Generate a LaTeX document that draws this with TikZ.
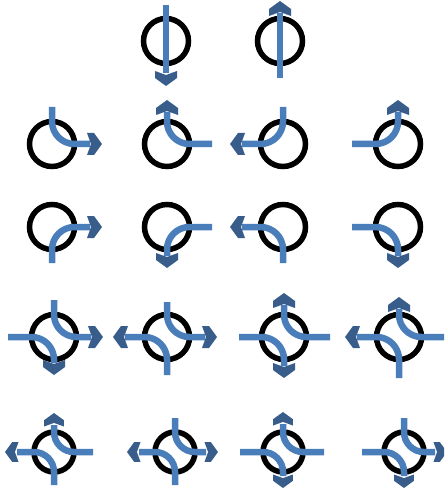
\documentclass[tikz,border=0pt]{standalone}
\definecolor{shaftc}{HTML}{4A7EBB}
\definecolor{headc}{HTML}{385D8A}
\tikzset{
  ring/.style={circle,draw=black,line width=5.5pt,inner sep=0pt,minimum size=45pt},
  ringsm/.style={ring,minimum size=40pt},
  shaft/.style={draw=shaftc,line width=6.5pt,line cap=butt,line join=round},
  headfill/.style={fill=headc}
}
\newcommand{\ahead}[4][1]{\fill[headfill,shift={(#2,#3)},rotate=#4,scale=#1]
  (-15,-11) -- (-8,-11) -- (0,0) -- (-8,11) -- (-15,11) -- (-11,0) -- cycle;}
\begin{document}
\begin{tikzpicture}[x=1pt,y=-1pt]
\useasboundingbox (0,0) rectangle (444,497);
\clip (0,0) rectangle (444,497);
\fill[white] (0,0) rectangle (444,497);
% rings
\node[ring] (c11) at (166,41) {};
\node[ring] (c12) at (280,41) {};
\node[ring] (c21) at (52,144) {};
\node[ring] (c22) at (167,144) {};
\node[ring] (c23) at (283,144) {};
\node[ring] (c24) at (398,144) {};
\node[ring] (c31) at (52,227) {};
\node[ring] (c32) at (167,227) {};
\node[ring] (c33) at (283,227) {};
\node[ring] (c34) at (398,227) {};
\node[ring] (c41) at (54,337) {};
\node[ring] (c42) at (167,337) {};
\node[ring] (c43) at (284,337) {};
\node[ring] (c44) at (399,337) {};
\node[ringsm] (c51) at (54,452) {};
\node[ringsm] (c52) at (175,452) {};
\node[ringsm] (c53) at (283,452) {};
\node[ringsm] (c54) at (404,452) {};
% row 1
\draw[shaft] (166,5) -- (c11.center) -- (166,73); \ahead{166}{86}{-90}
\draw[shaft] (280,78) -- (c12.center) -- (280,13); \ahead{280}{1}{90}
% row 2
\draw[shaft,rounded corners=22.5pt] (52,107) -- (c21.center) -- (90,144); \ahead{102}{144}{0}
\draw[shaft,rounded corners=22.5pt] (212,144) -- (c22.center) -- (167,112); \ahead{167}{100}{90}
\draw[shaft,rounded corners=22.5pt] (283,107) -- (c23.center) -- (242,144); \ahead{230}{144}{180}
\draw[shaft,rounded corners=22.5pt] (352,144) -- (c24.center) -- (398,112); \ahead{398}{100}{90}
% row 3
\draw[shaft,rounded corners=22.5pt] (52,263) -- (c31.center) -- (90,227); \ahead{102}{227}{0}
\draw[shaft,rounded corners=22.5pt] (212,227) -- (c32.center) -- (167,256); \ahead{167}{268}{-90}
\draw[shaft,rounded corners=22.5pt] (283,263) -- (c33.center) -- (242,227); \ahead{230}{227}{180}
\draw[shaft,rounded corners=22.5pt] (352,227) -- (c34.center) -- (398,256); \ahead{398}{268}{-90}
% row 4
\draw[shaft,rounded corners=22.5pt] (54,300) -- (c41.center) -- (91,337); \ahead{103}{337}{0}
\draw[shaft,rounded corners=22.5pt] (8,337) -- (c41.center) -- (54,363); \ahead{54}{375}{-90}
\draw[shaft,rounded corners=22.5pt] (167,302) -- (c42.center) -- (205,337); \ahead{217}{337}{0}
\draw[shaft,rounded corners=22.5pt] (167,375) -- (c42.center) -- (125,337); \ahead{113}{337}{180}
\draw[shaft,rounded corners=22.5pt] (330,337) -- (c43.center) -- (284,305); \ahead{284}{293}{90}
\draw[shaft,rounded corners=22.5pt] (239,337) -- (c43.center) -- (284,366); \ahead{284}{378}{-90}
\draw[shaft,rounded corners=22.5pt] (446,337) -- (c44.center) -- (399,309); \ahead{399}{297}{90}
\draw[shaft,rounded corners=22.5pt] (399,378) -- (c44.center) -- (357,337); \ahead{345}{337}{180}
% row 5
\draw[shaft,rounded corners=20pt] (93,452) -- (c51.center) -- (54,425); \ahead[0.9]{54}{413}{90}
\draw[shaft,rounded corners=20pt] (54,485) -- (c51.center) -- (17,452); \ahead[0.9]{5}{452}{180}
\draw[shaft,rounded corners=20pt] (175,418) -- (c52.center) -- (206,452); \ahead[0.9]{218}{452}{0}
\draw[shaft,rounded corners=20pt] (175,485) -- (c52.center) -- (139,452); \ahead[0.9]{127}{452}{180}
\draw[shaft,rounded corners=20pt] (324,452) -- (c53.center) -- (283,424); \ahead[0.9]{283}{412}{90}
\draw[shaft,rounded corners=20pt] (240,452) -- (c53.center) -- (283,476); \ahead[0.9]{283}{488}{-90}
\draw[shaft,rounded corners=20pt] (404,418) -- (c54.center) -- (435,452); \ahead[0.9]{447}{452}{0}
\draw[shaft,rounded corners=20pt] (362,452) -- (c54.center) -- (404,476); \ahead[0.9]{404}{488}{-90}
\end{tikzpicture}
\end{document}
